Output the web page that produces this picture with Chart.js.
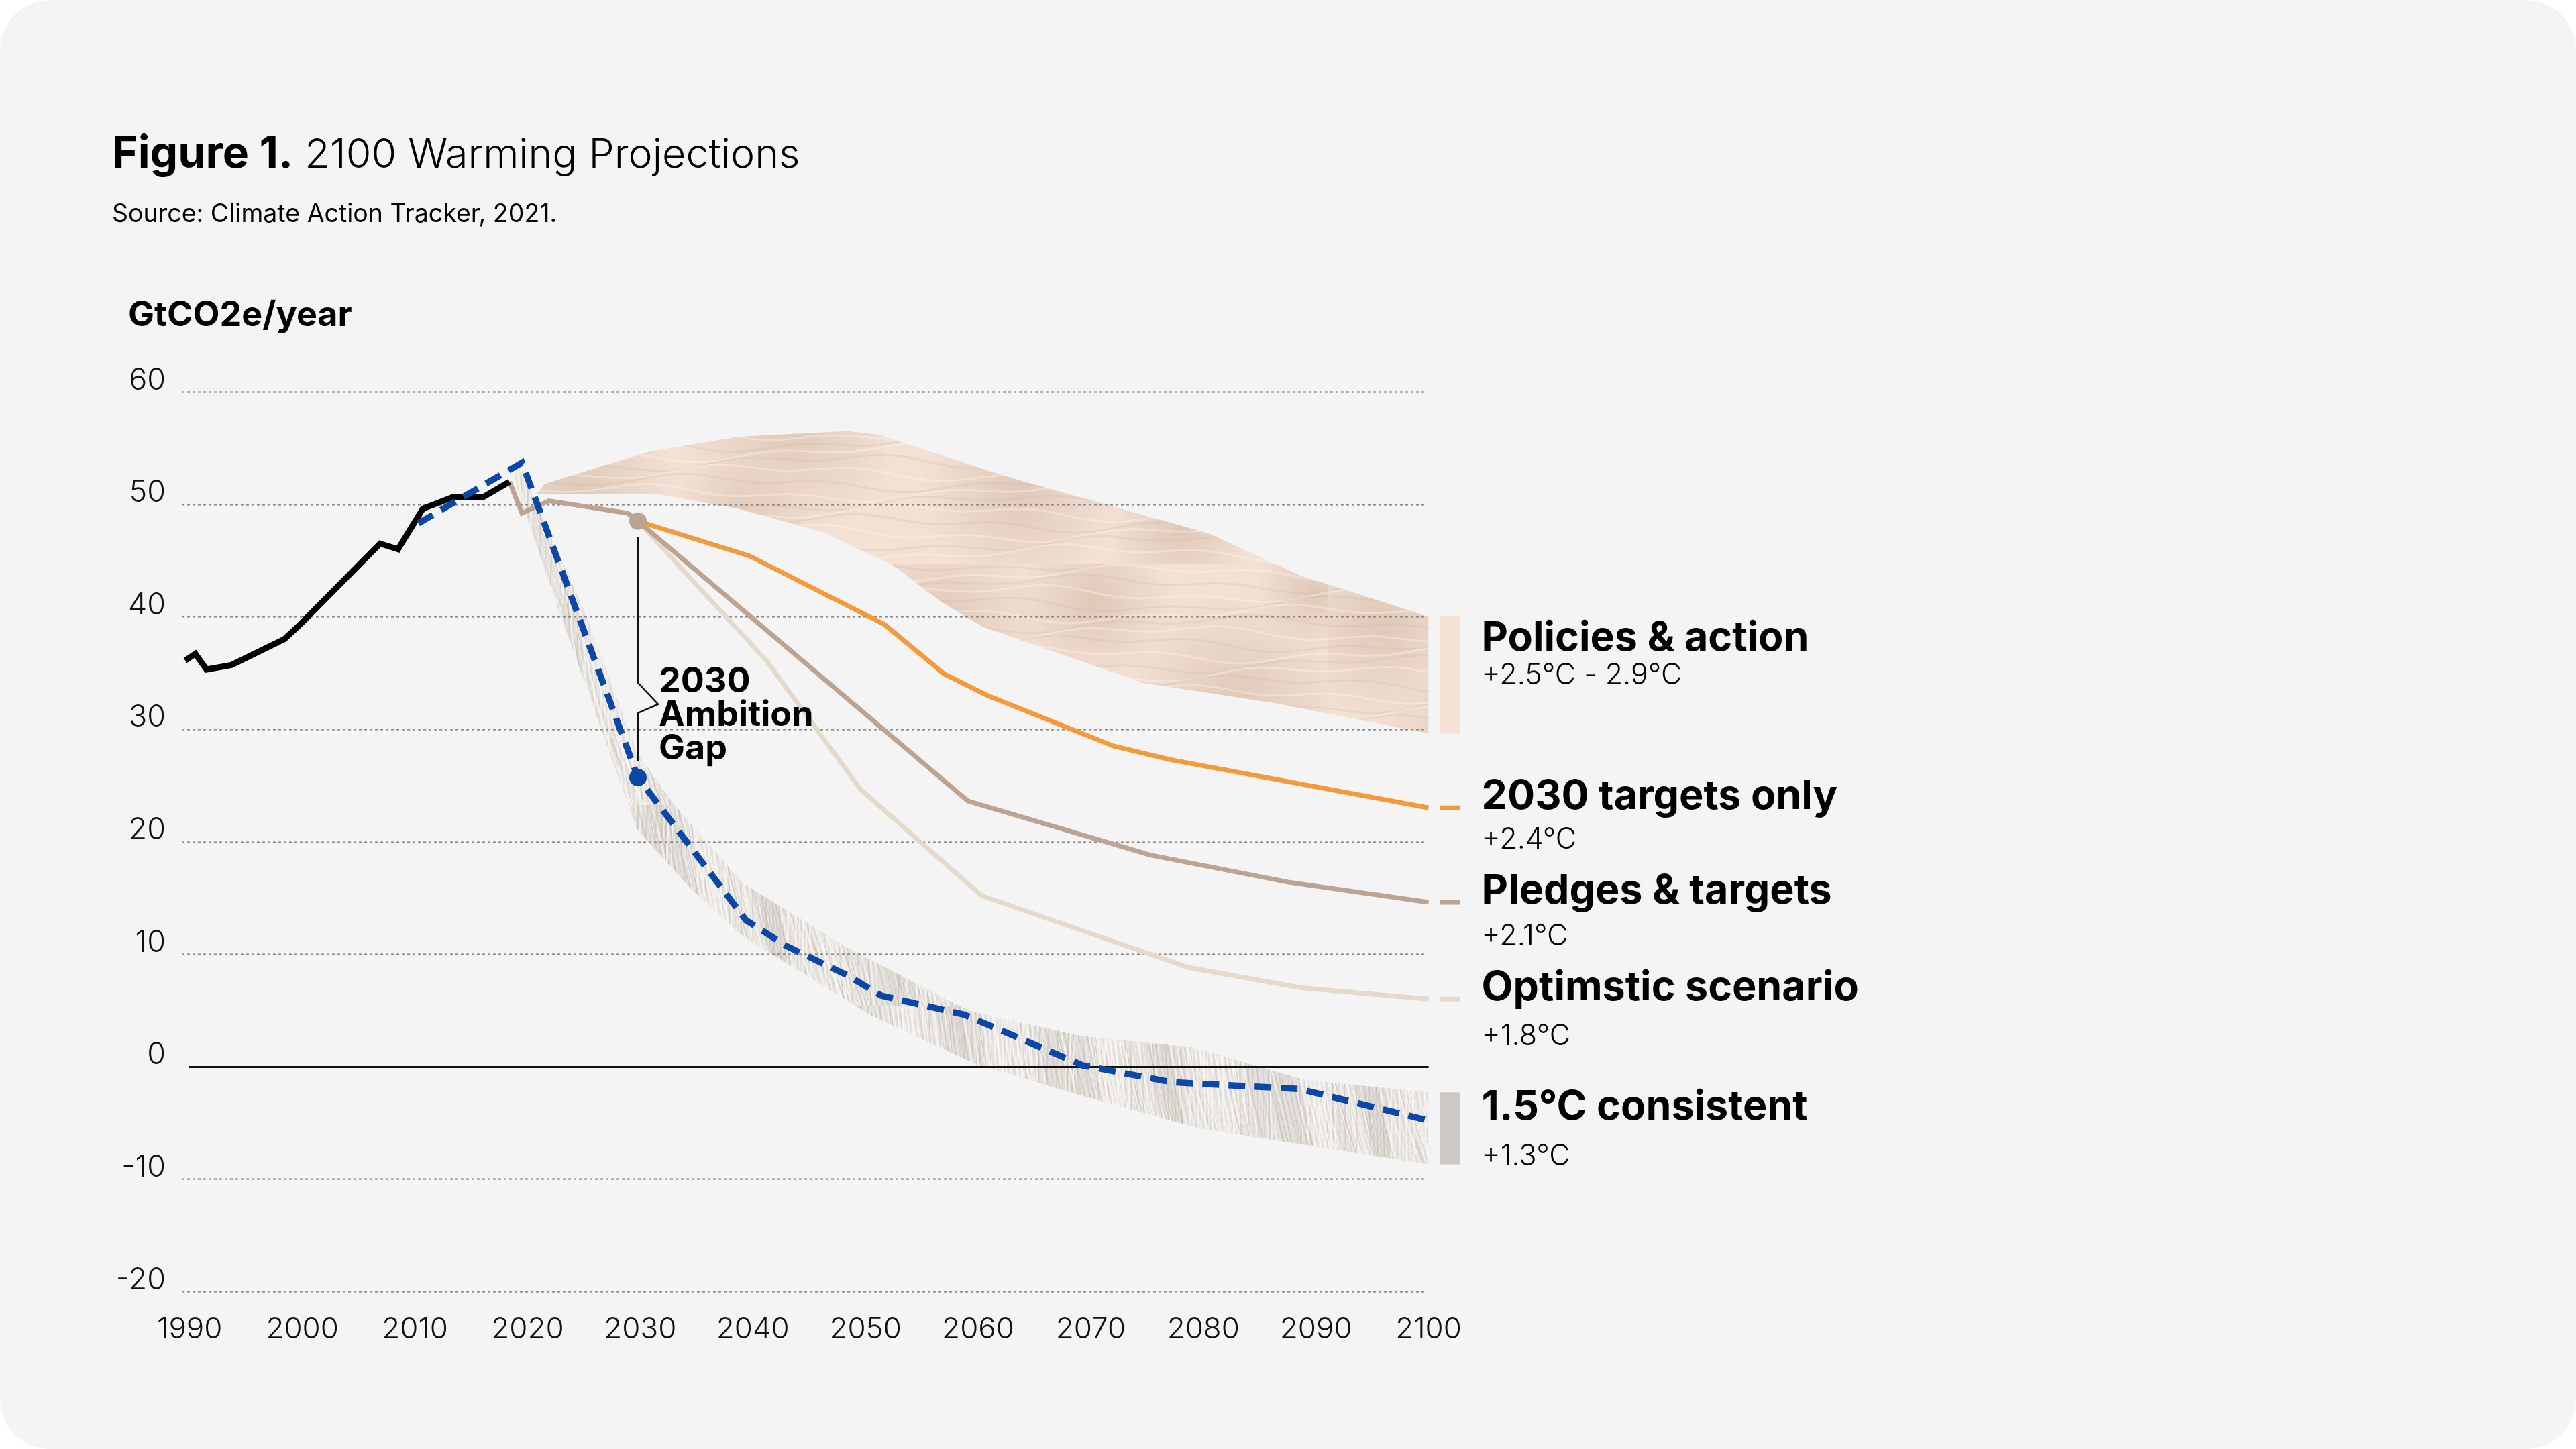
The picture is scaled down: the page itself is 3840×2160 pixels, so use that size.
<!DOCTYPE html>
<html>
<head>
<meta charset="utf-8">
<script src="https://cdn.jsdelivr.net/npm/chart.js@4.4.0/dist/chart.umd.min.js"></script>
<style>
html, body { margin: 0; padding: 0; background: #ffffff; }
#tarjeta { position: absolute; left: 0; top: 0; width: 3840px; height: 2160px; background: #f4f4f4; border-radius: 75px; overflow: hidden; font-family: Inter, Lato, sans-serif; color: #000; }
#grafico { position: absolute; left: 0; top: 0; }
#titulo { position: absolute; left: 167px; top: 193px; font-size: 61px; line-height: 1; white-space: nowrap; font-weight: 300; }
#titulo b { font-weight: 700; font-size: 66px; }
#fuente { position: absolute; left: 167px; top: 299px; font-size: 37.5px; line-height: 1; white-space: nowrap; font-weight: 400; }
#unidad { position: absolute; left: 191px; top: 442px; font-size: 52px; line-height: 1; white-space: nowrap; font-weight: 700; }
</style>
</head>
<body>
<div id="tarjeta">
  <canvas id="grafico" width="3840" height="2160"></canvas>
  <div id="titulo"><b>Figure 1.</b> 2100 Warming Projections</div>
  <div id="fuente">Source: Climate Action Tracker, 2021.</div>
  <div id="unidad">GtCO2e/year</div>
</div>
<script>
// ---- datos ----
const xTicks = [1990, 2000, 2010, 2020, 2030, 2040, 2050, 2060, 2070, 2080, 2090, 2100];
const yTicks = [-20, -10, 0, 10, 20, 30, 40, 50, 60];

const histYears  = [1989.6, 1990.5, 1991.5, 1993.7, 1998.4, 1999.8, 2006.9, 2008.5, 2010.7, 2013.3, 2016.0, 2018.4];
const histValues = [36.1, 36.7, 35.3, 35.7, 38.0, 39.3, 46.5, 46.0, 49.6, 50.6, 50.6, 52.0];

const policyUpperYears  = [2020.8, 2021.5, 2030.9, 2038.7, 2048.3, 2051.2, 2060.8, 2063.8, 2080.5, 2088.5, 2100];
const policyUpperValues = [50.9, 51.8, 54.7, 56.0, 56.5, 56.2, 53.0, 52.1, 47.4, 43.7, 40.0];
const policyLowerYears  = [2020.8, 2025.6, 2031.5, 2038.7, 2046.3, 2052.4, 2056.6, 2060.4, 2074.7, 2086.4, 2100];
const policyLowerValues = [50.9, 50.9, 50.9, 49.6, 47.5, 44.6, 41.4, 39.1, 34.1, 32.3, 29.6];

const targetsYears  = [2029.8, 2039.7, 2051.7, 2057.0, 2060.8, 2072.0, 2077.0, 2100];
const targetsValues = [48.5, 45.4, 39.3, 34.9, 33.0, 28.5, 27.3, 23.0];

const pledgesYears  = [2018.4, 2019.5, 2021.9, 2028.9, 2029.8, 2059.1, 2075.3, 2087.5, 2100];
const pledgesValues = [52.0, 49.2, 50.3, 49.2, 48.5, 23.6, 18.8, 16.4, 14.6];

const optimistYears  = [2029.8, 2041.2, 2049.6, 2060.3, 2078.7, 2088.7, 2100];
const optimistValues = [48.5, 36.1, 24.6, 15.2, 8.8, 7.0, 6.0];

const c15Years  = [2010.3, 2019.5, 2029.8, 2039.4, 2043.0, 2048.4, 2051.4, 2058.8, 2069.3, 2077.2, 2088.5, 2100];
const c15Values = [48.3, 53.7, 25.7, 13.0, 10.7, 8.1, 6.3, 4.6, 0.1, -1.4, -2.0, -4.8];

const c15UpperYears  = [2018.6, 2019.7, 2020.8, 2025.0, 2029.8, 2033.0, 2039.1, 2048.5, 2059.3, 2069.2, 2079.1, 2089.0, 2100];
const c15UpperValues = [52.8, 53.0, 50.0, 40.6, 27.8, 23.3, 16.3, 10.5, 4.9, 2.7, 1.7, -1.2, -2.3];
const c15LowerYears  = [2018.6, 2022.6, 2029.7, 2034.4, 2039.1, 2050.4, 2059.8, 2069.2, 2079.6, 2100];
const c15LowerValues = [52.6, 41.1, 21.1, 15.9, 11.6, 4.6, 0.2, -2.6, -5.5, -8.7];

const gapYear = 2029.8;
const gapTop = 48.5;
const gapBottom = 25.7;

const labelNames = ['Policies & action', '2030 targets only', 'Pledges & targets', 'Optimstic scenario', '1.5°C consistent'];
const labelTemps = ['+2.5°C - 2.9°C', '+2.4°C', '+2.1°C', '+1.8°C', '+1.3°C'];
const gapText = ['2030', 'Ambition', 'Gap'];

// ---- posiciones de etiquetas (en unidades del eje y) ----
const labelAt = [37.0, 22.9, 14.5, 5.9, -4.7];
const subAt = [34.0, 19.4, 10.8, 1.9, -8.8];

function puntos(xs, ys) {
    return xs.map((v, i) => ({ x: v, y: ys[i] }));
}

function texturaArena(c2d) {
    const t = document.createElement('canvas');
    t.width = 660; t.height = 420;
    const g = t.getContext('2d');
    g.fillStyle = '#f3e1d4';
    g.fillRect(0, 0, t.width, t.height);
    const manchas = [[80, 90, 150], [310, 60, 120], [520, 210, 170], [200, 310, 150], [440, 370, 110], [640, 40, 90]];
    manchas.forEach(m => {
        const rg = g.createRadialGradient(m[0], m[1], 0, m[0], m[1], m[2]);
        rg.addColorStop(0, 'rgba(210,184,165,0.6)');
        rg.addColorStop(1, 'rgba(210,184,165,0)');
        g.fillStyle = rg;
        g.fillRect(0, 0, t.width, t.height);
    });
    for (let i = 0; i < 28; i++) {
        g.beginPath();
        for (let px = -20; px <= t.width + 20; px += 10) {
            const py = i * 15 + Math.sin(px / 35 + i * 1.3) * 5 + Math.sin(px / 105 + i) * 9;
            if (px === -20) g.moveTo(px, py); else g.lineTo(px, py);
        }
        g.strokeStyle = i % 2 ? 'rgba(255,246,240,0.35)' : 'rgba(208,184,166,0.25)';
        g.lineWidth = 3;
        g.stroke();
    }
    return c2d.createPattern(t, 'repeat');
}

function texturaFibra(c2d) {
    const t = document.createElement('canvas');
    t.width = 300; t.height = 300;
    const g = t.getContext('2d');
    g.fillStyle = '#e4e0db';
    g.fillRect(0, 0, 300, 300);
    for (let i = 0; i < 140; i++) {
        const x0 = (i * 53 + (i % 7) * 11) % 300;
        const dx = 50 + Math.sin(i * 2.1) * 45;
        g.strokeStyle = i % 2 ? 'rgba(250,248,245,0.7)' : 'rgba(180,173,165,0.35)';
        g.lineWidth = 0.8 + (i % 4) * 0.6;
        [-300, 0, 300].forEach(off => {
            g.beginPath();
            g.moveTo(x0 + off, 0);
            g.quadraticCurveTo(x0 + off + dx * 0.3 + Math.sin(i) * 15, 150, x0 + off + dx, 300);
            g.stroke();
        });
    }
    return c2d.createPattern(t, 'repeat');
}

const ctx = document.getElementById('grafico').getContext('2d');

const decor = {
    id: 'decor',
    afterDatasetDraw(chart, args) {
        // lineas de grilla sobre las bandas, debajo de las lineas
        if (args.index !== 2) return;
        const c = chart.ctx, x = chart.scales.x, y = chart.scales.y;
        c.save();
        yTicks.forEach(v => {
            const py = Math.round(y.getPixelForValue(v)) + 0.5;
            c.beginPath();
            if (v === 0) {
                c.setLineDash([]);
                c.strokeStyle = '#111111';
                c.lineWidth = 3;
                c.moveTo(x.getPixelForValue(1989.9), py);
                c.lineTo(x.getPixelForValue(2100), py);
            } else {
                c.setLineDash([4, 4]);
                c.strokeStyle = '#8a8a8a';
                c.lineWidth = 2.2;
                c.moveTo(x.getPixelForValue(1989.3), py);
                c.lineTo(x.getPixelForValue(2099.6), py);
            }
            c.stroke();
        });
        c.restore();
    },
    afterDatasetsDraw(chart) {
        const c = chart.ctx, x = chart.scales.x, y = chart.scales.y;
        const gx = x.getPixelForValue(gapYear);
        const yTop = y.getPixelForValue(gapTop);
        const yBot = y.getPixelForValue(gapBottom);
        const tip = yTop + 273;

        c.save();
        // llave de la brecha 2030
        c.strokeStyle = '#111111';
        c.lineWidth = 2.5;
        c.beginPath();
        c.moveTo(gx, yTop + 24);
        c.lineTo(gx, tip - 32);
        c.lineTo(gx + 30, tip);
        c.lineTo(gx, tip + 13);
        c.lineTo(gx, yBot - 25);
        c.stroke();

        c.fillStyle = '#000000';
        c.font = '700 52px Inter, Lato, sans-serif';
        c.textBaseline = 'alphabetic';
        c.textAlign = 'left';
        gapText.forEach((t, i) => c.fillText(t, gx + 31, tip - 18 + i * 50));

        // muestras a la derecha
        const x0 = x.getPixelForValue(2100);
        const sx = x0 + 17, sw = 30;
        const last = a => a[a.length - 1];
        c.fillStyle = '#f5e1d4';
        let a = y.getPixelForValue(last(policyUpperValues)), b = y.getPixelForValue(last(policyLowerValues));
        c.fillRect(sx, a, sw, b - a);
        c.fillStyle = '#cdc8c3';
        a = y.getPixelForValue(last(c15UpperValues)); b = y.getPixelForValue(last(c15LowerValues));
        c.fillRect(sx, a, sw, b - a);
        [[targetsValues, '#f39a3d'], [pledgesValues, '#bba491'], [optimistValues, '#e4dacb']].forEach(p => {
            const py = y.getPixelForValue(last(p[0]));
            c.fillStyle = p[1];
            c.fillRect(sx, py - 3.5, sw, 7);
        });

        // etiquetas
        const tx = x0 + 79;
        c.fillStyle = '#000000';
        labelNames.forEach((n, i) => {
            c.font = '700 61px Inter, Lato, sans-serif';
            c.fillText(n, tx, y.getPixelForValue(labelAt[i]));
            c.font = '300 43px Inter, Lato, sans-serif';
            c.fillText(labelTemps[i], tx, y.getPixelForValue(subAt[i]));
        });
        c.restore();
    }
};

new Chart(ctx, {
    type: 'line',
    data: {
        datasets: [
            { // 0 banda politicas (borde superior, rellena hasta 1)
                data: puntos(policyUpperYears, policyUpperValues),
                borderWidth: 0, pointRadius: 0, fill: 1,
                backgroundColor: texturaArena(ctx), order: 9
            },
            { // 1
                data: puntos(policyLowerYears, policyLowerValues),
                borderWidth: 0, pointRadius: 0, fill: false, order: 10
            },
            { // 2 banda 1.5C
                data: puntos(c15UpperYears, c15UpperValues),
                borderWidth: 0, pointRadius: 0, fill: 3,
                backgroundColor: texturaFibra(ctx), order: 7
            },
            { // 3
                data: puntos(c15LowerYears, c15LowerValues),
                borderWidth: 0, pointRadius: 0, fill: false, order: 8
            },
            { // 4 optimista
                data: puntos(optimistYears, optimistValues),
                borderColor: '#e4dacb', borderWidth: 7, pointRadius: 0, fill: false, order: 6
            },
            { // 5 compromisos
                data: puntos(pledgesYears, pledgesValues),
                borderColor: '#bba491', borderWidth: 7, pointRadius: 0, fill: false, order: 5
            },
            { // 6 metas 2030
                data: puntos(targetsYears, targetsValues),
                borderColor: '#f39a3d', borderWidth: 7, pointRadius: 0, fill: false, order: 4
            },
            { // 7 historico
                data: puntos(histYears, histValues),
                borderColor: '#000000', borderWidth: 9, pointRadius: 0, fill: false, order: 3
            },
            { // 8 trayectoria 1.5C
                data: puntos(c15Years, c15Values),
                borderColor: '#0b47a6', borderWidth: 9.5, borderDash: [25, 14],
                pointRadius: 0, fill: false, order: 2
            },
            { // 9 punto superior
                data: [{ x: gapYear, y: gapTop }],
                showLine: false, pointRadius: 13, pointBackgroundColor: '#bba491',
                pointBorderWidth: 0, order: 1
            },
            { // 10 punto inferior
                data: [{ x: gapYear, y: gapBottom }],
                showLine: false, pointRadius: 13, pointBackgroundColor: '#0b47a6',
                pointBorderWidth: 0, order: 0
            }
        ]
    },
    options: {
        responsive: false,
        animation: false,
        devicePixelRatio: 1,
        layout: { padding: { left: 126, right: 1702, top: 584, bottom: 135 } },
        elements: { line: { tension: 0, borderJoinStyle: 'miter', borderCapStyle: 'butt' } },
        plugins: { legend: { display: false }, tooltip: { enabled: false } },
        scales: {
            x: {
                type: 'linear', min: 1989, max: 2100.5,
                grid: { display: false, drawTicks: false },
                border: { display: false },
                afterFit: s => { s.height = 100; },
                afterBuildTicks: s => { s.ticks = xTicks.map(v => ({ value: v })); },
                ticks: {
                    font: { family: 'Inter', size: 44, weight: 300 },
                    color: '#111111', padding: 30, maxRotation: 0, autoSkip: false,
                    callback: v => String(v)
                }
            },
            y: {
                type: 'linear', min: -20, max: 60,
                grid: { display: false, drawTicks: false },
                border: { display: false },
                afterFit: s => { s.width = 140; },
                afterBuildTicks: s => { s.ticks = yTicks.map(v => ({ value: v })); },
                ticks: {
                    font: { family: 'Inter', size: 45, weight: 300 },
                    color: '#111111', padding: 19, labelOffset: -17,
                    callback: v => String(v)
                }
            }
        }
    },
    plugins: [decor]
});
</script>
</body>
</html>
